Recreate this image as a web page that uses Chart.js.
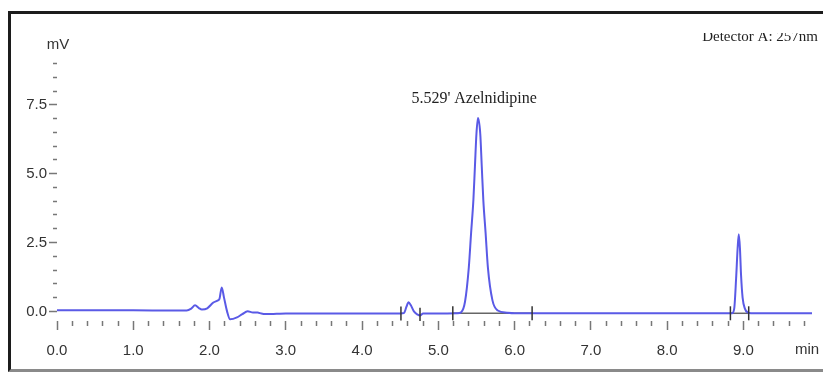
<!DOCTYPE html>
<html lang="en">
<head>
<meta charset="UTF-8">
<title>Chromatogram</title>
<script src="https://cdn.jsdelivr.net/npm/chart.js"></script>
<style>
  body { margin: 0; background: #fff; }
  #grafico { position: absolute; left: 0; top: 0; }
  .moldura { position: absolute; left: 8px; top: 11px; width: 830px; height: 355px;
    border: 3px solid #1c1c1c; border-bottom-color: #8a8a8a; pointer-events: none; }
</style>
</head>
<body>
<canvas id="grafico" width="823" height="373"></canvas>
<div class="moldura"></div>
<script>
// retention time (min) and detector signal (mV)
var tempo = [0, 0.5, 1.0, 1.5, 1.70, 1.76, 1.81, 1.86, 1.90, 1.97, 2.05, 2.11, 2.13, 2.16, 2.19, 2.23, 2.27, 2.36, 2.43, 2.50,
  2.57, 2.63, 2.68, 2.73, 2.88, 3.0, 3.5, 4.0, 4.45, 4.55, 4.58, 4.61, 4.64, 4.68, 4.73, 4.76, 4.80, 5.0, 5.25, 5.30,
  5.35, 5.40, 5.43, 5.46, 5.48, 5.50, 5.52, 5.55, 5.57, 5.59, 5.62, 5.65, 5.71, 5.78, 5.90, 6.0, 6.5, 7.0, 7.5, 8.0,
  8.5, 8.85, 8.88, 8.905, 8.925, 8.94, 8.955, 8.97, 8.99, 9.02, 9.06, 9.1, 9.5, 9.9]
var sinal = [0.04, 0.04, 0.04, 0.03, 0.03, 0.10, 0.22, 0.12, 0.07, 0.11, 0.32, 0.40, 0.45, 0.87, 0.50, 0.0, -0.29, -0.22, -0.10, 0.0,
  -0.04, -0.04, -0.08, -0.10, -0.09, -0.08, -0.08, -0.08, -0.08, -0.06, 0.15, 0.33, 0.22, 0.0, -0.12, -0.15, -0.08, -0.08, -0.07, -0.03,
  0.35, 1.6, 2.85, 4.05, 5.25, 6.45, 7.02, 6.45, 5.25, 4.05, 2.85, 1.6, 0.4, 0.03, -0.05, -0.07, -0.07, -0.07, -0.07, -0.07,
  -0.07, -0.07, 0.1, 1.2, 2.3, 2.8, 2.3, 1.3, 0.5, 0.1, -0.05, -0.07, -0.07, -0.07]

// integration marks and drawn baselines
var marcas = [4.51, 4.76, 5.19, 6.23, 8.83, 9.07]
var marcasY = [-0.08, -0.12, -0.07, -0.07, -0.07, -0.07]
var linhaBase1 = [5.19, 6.23]
var linhaBase2 = [8.83, 9.07]

// axis ticks: minor every 0.2 min / 0.5 mV, labels on whole minutes and every 2.5 mV
var ticksX = []
for (var i = 0; i <= 49; i++) ticksX.push(Math.round(i * 2) / 10)
var ticksY = []
for (var j = 0; j <= 18; j++) ticksY.push(j * 0.5)

var rotuloPico = "5.529' Azelnidipine"
var rotuloDetector = "Detector A: 257nm"

var pontos = tempo.map((t, i) => ({ x: t, y: sinal[i] }))
var pontosMarcas = marcas.map((t, i) => ({ x: t, y: marcasY[i] }))

function ehInteiro(v) { return Math.abs(v - Math.round(v)) < 1e-6 }
function ehRotuloY(v) { return Math.abs(v / 2.5 - Math.round(v / 2.5)) < 1e-6 }

const textos = {
  id: 'textos',
  afterDraw(chart) {
    const c = chart.ctx, x = chart.scales.x, y = chart.scales.y
    c.save()
    c.fillStyle = '#333'
    c.font = '15px "Liberation Sans", Arial, sans-serif'
    c.textAlign = 'center'
    c.textBaseline = 'middle'
    c.fillText('mV', 58, 45)
    c.textAlign = 'left'
    c.fillText('min', 795, 350)
    c.fillStyle = '#222'
    c.font = '16px "Liberation Serif", "Times New Roman", serif'
    c.textAlign = 'center'
    c.textBaseline = 'alphabetic'
    c.fillText(rotuloPico, x.getPixelForValue(5.47), y.getPixelForValue(7.55))
    c.beginPath()
    c.rect(0, 33, 823, 40)
    c.clip()
    c.font = '15px "Liberation Serif", "Times New Roman", serif'
    c.textAlign = 'right'
    c.fillText(rotuloDetector, 818, 41)
    c.restore()
  }
}

new Chart(document.getElementById('grafico'), {
  type: 'line',
  data: {
    datasets: [
      { data: pontos, borderColor: '#5a5ae6', borderWidth: 2, pointRadius: 0,
        cubicInterpolationMode: 'monotone', order: 1 },
      { data: linhaBase1.map(t => ({ x: t, y: -0.07 })), borderColor: '#666', borderWidth: 1.5,
        pointRadius: 0, order: 2 },
      { data: linhaBase2.map(t => ({ x: t, y: -0.07 })), borderColor: '#666', borderWidth: 1.5,
        pointRadius: 0, order: 2 },
      { data: pontosMarcas, showLine: false, pointStyle: 'line', rotation: 90, pointRadius: 7,
        borderColor: '#333', borderWidth: 1.5, order: 0 }
    ]
  },
  options: {
    responsive: false,
    animation: false,
    devicePixelRatio: 1,
    layout: { padding: { top: 36, right: 11, left: 0, bottom: 0 } },
    plugins: { legend: { display: false }, tooltip: { enabled: false } },
    scales: {
      x: {
        type: 'linear', min: 0, max: 9.9,
        border: { display: false },
        grid: {
          drawOnChartArea: false, tickLength: 9, tickColor: '#777', tickWidth: 1.5,
          tickBorderDash: ctx => ehInteiro(ctx.tick.value) ? [] : [5, 20]
        },
        afterBuildTicks: s => { s.ticks = ticksX.map(v => ({ value: v })) },
        afterFit: s => { s.height = 52 },
        ticks: {
          autoSkip: false, maxRotation: 0, padding: 12, color: '#333',
          font: { family: '"Liberation Sans", Arial, sans-serif', size: 15 },
          callback: v => ehInteiro(v) ? v.toFixed(1) : ''
        }
      },
      y: {
        min: -0.35, max: 10,
        border: { display: false },
        grid: {
          drawOnChartArea: false, tickLength: 8, tickColor: '#777', tickWidth: 1.5,
          tickBorderDash: ctx => ehRotuloY(ctx.tick.value) ? [] : [4, 4],
          tickBorderDashOffset: ctx => ehRotuloY(ctx.tick.value) ? 0 : 4
        },
        afterBuildTicks: s => { s.ticks = ticksY.map(v => ({ value: v })) },
        afterFit: s => { s.width = 57 },
        ticks: {
          autoSkip: false, padding: 2, color: '#333',
          font: { family: '"Liberation Sans", Arial, sans-serif', size: 15 },
          callback: v => ehRotuloY(v) ? v.toFixed(1) : ''
        }
      }
    }
  },
  plugins: [textos]
})
</script>
</body>
</html>
